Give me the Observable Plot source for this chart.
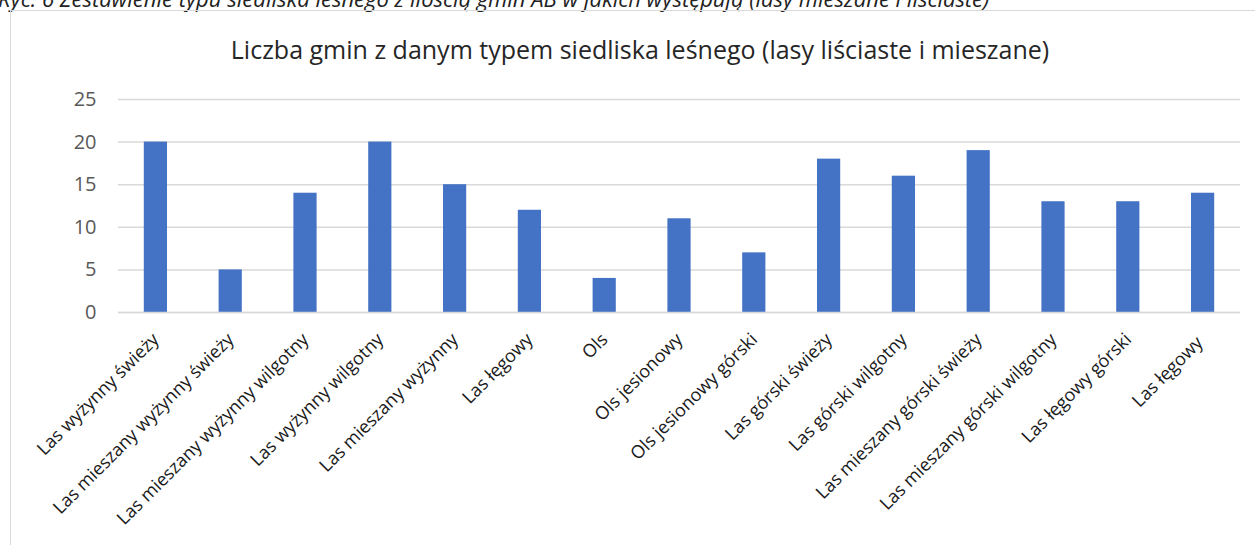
<!DOCTYPE html>
<html><head><meta charset="utf-8">
<script src="https://cdn.jsdelivr.net/npm/d3@7"></script>
<script src="https://cdn.jsdelivr.net/npm/@observablehq/plot@0.6"></script>
<style>
html,body{margin:0;padding:0;background:#fff;width:1255px;height:545px;overflow:hidden;position:relative;font-family:"Open Sans",sans-serif;}
#caption{position:absolute;left:-2px;top:-13px;line-height:22px;font-style:italic;font-size:22px;color:#222;white-space:nowrap;}
#box{position:absolute;left:10px;top:10px;width:1260px;height:560px;border:1px solid #d9d9d9;box-sizing:border-box;}
#title{position:absolute;left:0;width:1280px;top:37px;line-height:25px;text-align:center;font-size:25px;color:#262626;white-space:nowrap;}
#chart{position:absolute;left:0;top:0;}
</style></head>
<body>
<div id="caption">Ryc. 6 Zestawienie typu siedliska leśnego z ilością gmin AB w jakich występują (lasy mieszane i liściaste)</div>
<div id="box"></div>
<div id="title">Liczba gmin z danym typem siedliska leśnego (lasy liściaste i mieszane)</div>
<div id="chart"></div>
<script>
const categories = ["Las wyżynny świeży","Las mieszany wyżynny świeży","Las mieszany wyżynny wilgotny","Las wyżynny wilgotny","Las mieszany wyżynny","Las łęgowy","Ols","Ols jesionowy","Ols jesionowy górski","Las górski świeży","Las górski wilgotny","Las mieszany górski świeży","Las mieszany górski wilgotny","Las łęgowy górski","Las łęgowy "];
const values = [20,5,14,20,15,12,4,11,7,18,16,19,13,13,14];
const yTicks = [0,5,10,15,20,25];
const data = categories.map((c,i)=>({cat:c, v:values[i]}));

const chart = Plot.plot({
  width:1255, height:545,
  marginTop:99, marginBottom:233, marginLeft:118, marginRight:15,
  x:{domain:categories, paddingInner:0.69, paddingOuter:0.345, round:false, label:null, axis:null},
  y:{domain:[0,25], label:null, axis:null},
  style:{fontFamily:"'Open Sans', sans-serif", background:"transparent"},
  marks:[
    Plot.gridY(yTicks,{stroke:"#d9d9d9", strokeOpacity:1, strokeWidth:1.5}),
    Plot.axisY(yTicks,{tickSize:0, tickPadding:22, fontSize:20, fill:"#595959", label:null}),
    Plot.barY(data,{x:"cat", y:"v", fill:"#4472c4"}),
    Plot.ruleY([0],{stroke:"#d9d9d9", strokeWidth:1.5}),
    Plot.text(data,{x:"cat", y:0, text:"cat", rotate:-45, textAnchor:"end", dx:0, dy:24, fontSize:18, fill:"#1a1a1a"})
  ]
});
document.getElementById("chart").appendChild(chart);
</script>
</body></html>
